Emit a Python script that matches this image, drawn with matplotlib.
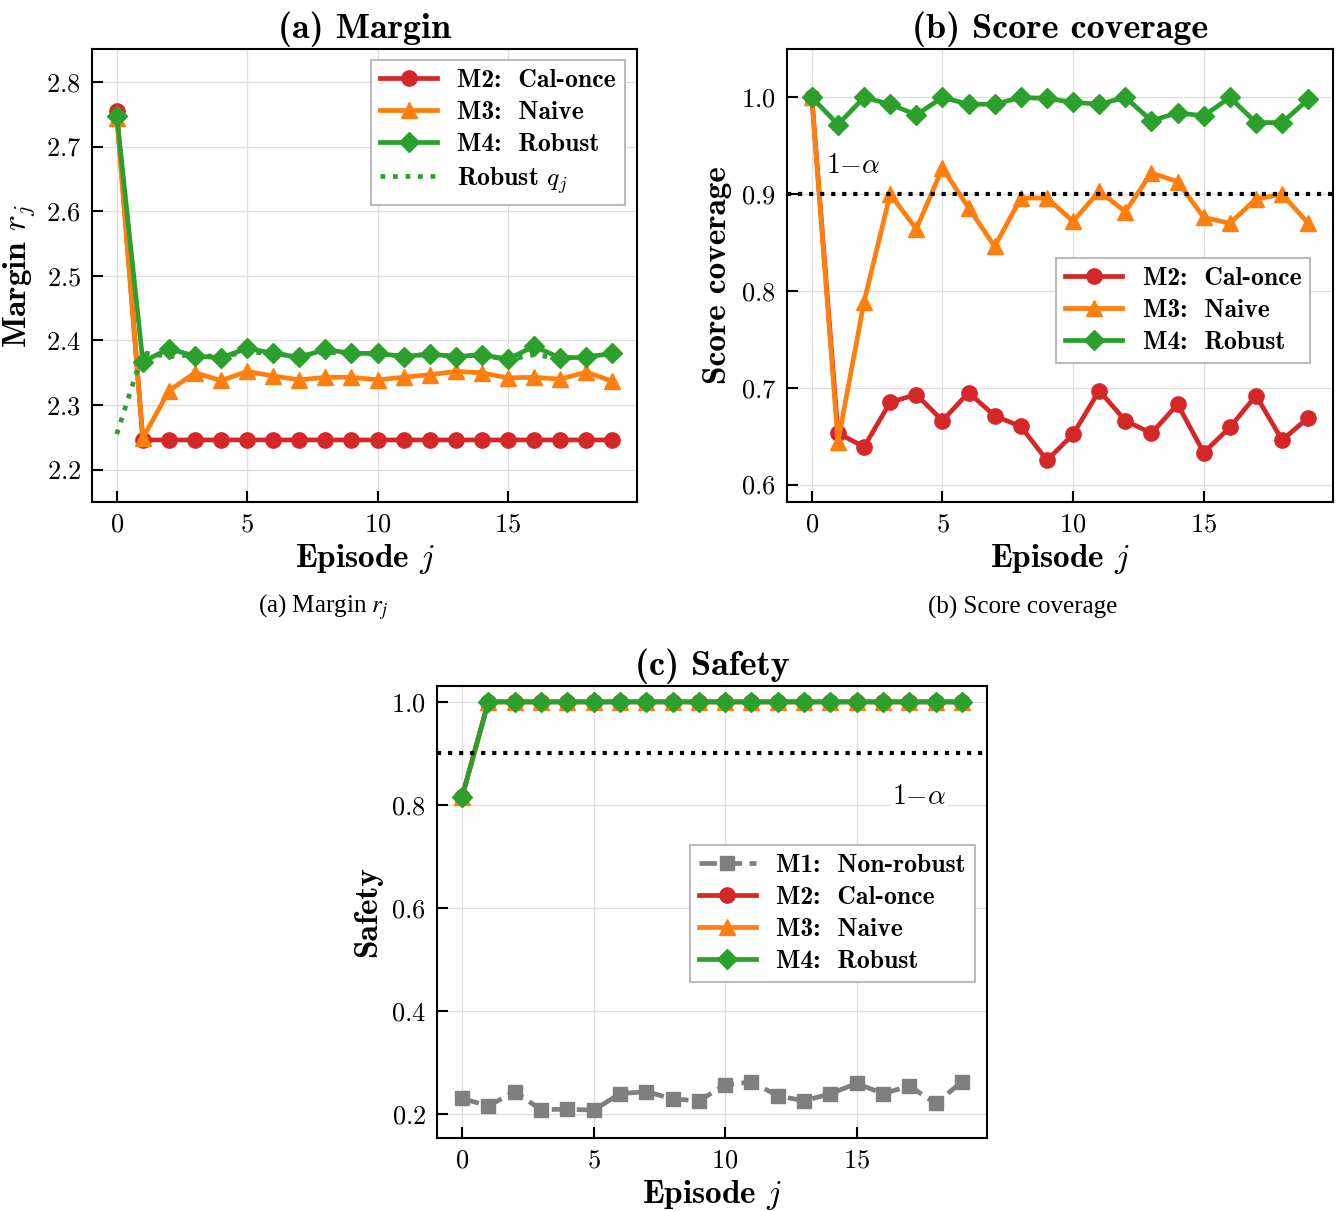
import matplotlib
matplotlib.use("Agg")
import matplotlib.pyplot as plt
from matplotlib.font_manager import FontProperties

plt.rcParams["font.family"] = "cmr10"
plt.rcParams["mathtext.fontset"] = "cm"
plt.rcParams["axes.formatter.use_mathtext"] = True
plt.rcParams["axes.unicode_minus"] = False

episodes = list(range(20))

# (a) margin r_j
margin_cal_once = [2.755] + [2.246] * 19
margin_naive = [2.745, 2.249, 2.322, 2.350, 2.338, 2.352, 2.345, 2.339, 2.343, 2.343,
                2.339, 2.343, 2.347, 2.352, 2.350, 2.342, 2.343, 2.340, 2.351, 2.337]
margin_robust = [2.748, 2.367, 2.387, 2.376, 2.373, 2.388, 2.380, 2.374, 2.386, 2.380,
                 2.380, 2.375, 2.379, 2.375, 2.378, 2.371, 2.391, 2.373, 2.374, 2.380]
robust_q = [2.255, 2.381, 2.375, 2.378, 2.374, 2.383, 2.379, 2.376, 2.382, 2.379,
            2.379, 2.376, 2.378, 2.376, 2.377, 2.370, 2.378, 2.372, 2.375, 2.378]

# (b) score coverage
cov_cal_once = [1.0, 0.653, 0.639, 0.685, 0.693, 0.666, 0.695, 0.671, 0.660, 0.625,
                0.652, 0.697, 0.666, 0.653, 0.683, 0.633, 0.659, 0.692, 0.646, 0.669]
cov_naive = [1.0, 0.644, 0.789, 0.900, 0.864, 0.927, 0.886, 0.846, 0.896, 0.896,
             0.872, 0.903, 0.882, 0.922, 0.913, 0.876, 0.870, 0.895, 0.900, 0.870]
cov_robust = [1.0, 0.972, 1.0, 0.993, 0.982, 1.0, 0.993, 0.993, 1.0, 0.999,
              0.995, 0.993, 1.0, 0.976, 0.984, 0.981, 1.0, 0.974, 0.974, 0.998]

# (c) safety
safe_nonrobust = [0.230, 0.215, 0.243, 0.208, 0.209, 0.207, 0.239, 0.243, 0.229, 0.225,
                  0.256, 0.262, 0.235, 0.225, 0.239, 0.259, 0.239, 0.254, 0.220, 0.262]
safe_cal_once = [0.815] + [1.0] * 19
safe_naive = [0.815] + [1.0] * 19
safe_robust = [0.815] + [1.0] * 19

target = 0.9

GRAY, RED, ORANGE, GREEN = "#7f7f7f", "#d62728", "#ff7f0e", "#2ca02c"
bold = "cmb10"
leg_font = FontProperties(family=bold, size=18.5)

fig = plt.figure(figsize=(13.43, 12.11), dpi=100)
ax_a = fig.add_axes([0.0685, 0.5855, 0.4058, 0.374])
ax_b = fig.add_axes([0.586, 0.5855, 0.4066, 0.374])
ax_c = fig.add_axes([0.3254, 0.0603, 0.4095, 0.3733])


def style(ax):
    ax.grid(True, color="#dddddd", lw=0.9)
    ax.set_axisbelow(True)
    ax.tick_params(direction="in", length=8, width=1.5, labelsize=19, pad=8)
    for s in ax.spines.values():
        s.set_linewidth(1.5)
    ax.set_xlim(-0.95, 19.95)
    ax.set_xticks([0, 5, 10, 15])
    ax.set_xlabel("Episode $j$", fontfamily=bold, fontsize=24, labelpad=4)


def legend(ax, anchor):
    leg = ax.legend(loc="upper right", bbox_to_anchor=anchor, borderaxespad=0,
                    prop=leg_font, fancybox=False, edgecolor="#bbbbbb",
                    framealpha=1, handlelength=2.2, borderpad=0.35,
                    labelspacing=0.35)
    leg.get_frame().set_linewidth(1.5)


lw = 3.4
# panel (a)
ax_a.plot(episodes, margin_cal_once, color=RED, lw=lw, marker="o", ms=11, label="M2:  Cal-once")
ax_a.plot(episodes, margin_naive, color=ORANGE, lw=lw, marker="^", ms=11, label="M3:  Naive")
ax_a.plot(episodes, margin_robust, color=GREEN, lw=lw, marker="D", ms=10, label="M4:  Robust")
ax_a.plot(episodes, robust_q, color=GREEN, lw=3.4, ls=":", label="Robust $q_j$")
style(ax_a)
ax_a.set_ylim(2.150, 2.851)
ax_a.set_yticks([2.2, 2.3, 2.4, 2.5, 2.6, 2.7, 2.8])
ax_a.set_ylabel("Margin $r_j$", fontfamily=bold, fontsize=24, labelpad=6)
ax_a.set_title("(a) Margin", fontfamily=bold, fontsize=26, pad=8)
legend(ax_a, (0.978, 0.976))

# panel (b)
ax_b.plot(episodes, cov_cal_once, color=RED, lw=lw, marker="o", ms=11, label="M2:  Cal-once")
ax_b.plot(episodes, cov_naive, color=ORANGE, lw=lw, marker="^", ms=11, label="M3:  Naive")
ax_b.plot(episodes, cov_robust, color=GREEN, lw=lw, marker="D", ms=10, label="M4:  Robust")
ax_b.axhline(target, color="black", ls=":", lw=3)
ax_b.text(0.55, 0.929, r"$1{-}\alpha$", fontsize=20, va="center", ha="left")
style(ax_b)
ax_b.set_ylim(0.582, 1.05)
ax_b.set_yticks([0.6, 0.7, 0.8, 0.9, 1.0])
ax_b.set_ylabel("Score coverage", fontfamily=bold, fontsize=24, labelpad=6)
ax_b.set_title("(b) Score coverage", fontfamily=bold, fontsize=26, pad=8)
legend(ax_b, (0.958, 0.539))

# panel (c)
ax_c.plot(episodes, safe_nonrobust, color=GRAY, lw=lw, ls="--", marker="s", ms=10, label="M1:  Non-robust")
ax_c.plot(episodes, safe_cal_once, color=RED, lw=lw, marker="o", ms=11, label="M2:  Cal-once")
ax_c.plot(episodes, safe_naive, color=ORANGE, lw=lw, marker="^", ms=11, label="M3:  Naive")
ax_c.plot(episodes, safe_robust, color=GREEN, lw=lw, marker="D", ms=10, label="M4:  Robust")
ax_c.axhline(target, color="black", ls=":", lw=3)
ax_c.text(16.35, 0.816, r"$1{-}\alpha$", fontsize=20, va="center", ha="left",
          bbox=dict(facecolor="white", edgecolor="none", pad=1))
style(ax_c)
ax_c.set_ylim(0.153, 1.031)
ax_c.set_yticks([0.2, 0.4, 0.6, 0.8, 1.0])
ax_c.set_ylabel("Safety", fontfamily=bold, fontsize=24, labelpad=6)
ax_c.set_title("(c) Safety", fontfamily=bold, fontsize=26, pad=8)
legend(ax_c, (0.978, 0.648))

# sub-captions
fig.text(323 / 1343, 1 - 607 / 1211, "(a) Margin $r_j$", family="Liberation Serif",
         math_fontfamily="stix", fontsize=18, ha="center", va="center")
fig.text(1023 / 1343, 1 - 607 / 1211, "(b) Score coverage", family="Liberation Serif",
         fontsize=18, ha="center", va="center")

fig.savefig("out.png", dpi=100)
